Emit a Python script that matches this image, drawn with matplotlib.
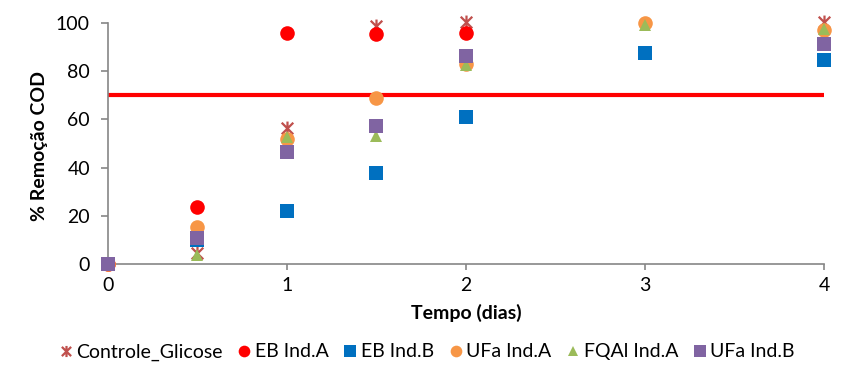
import numpy as np
import matplotlib
matplotlib.use("Agg")
from matplotlib import pyplot as plt
from matplotlib.path import Path

# time points (days)
tempo = [0, 0.5, 1, 1.5, 2, 3, 4]

# % COD removal for each series (None = no point)
controle_glicose = [0, 4.6, 56.4, 98.8, 100.3, None, 100.2]
eb_ind_a = [0, 23.8, 96.0, 95.3, 96.0, None, None]
eb_ind_b = [0, 10.0, 21.9, 37.6, 60.8, 87.4, 84.6]
ufa_ind_a = [0, 15.3, 52.0, 68.8, 83.0, 100.0, 97.2]
fqal_ind_a = [0, 3.7, 52.5, 53.2, 82.5, 99.0, 97.5]
ufa_ind_b = [0, 10.6, 46.3, 57.3, 86.3, None, 91.2]

limite = 70  # target line

series = [
    ("Controle_Glicose", controle_glicose, "#C0504D", "star"),
    ("EB Ind.A", eb_ind_a, "#FF0000", "o"),
    ("EB Ind.B", eb_ind_b, "#0070C0", "s"),
    ("UFa Ind.A", ufa_ind_a, "#F79646", "o"),
    ("FQAl Ind.A", fqal_ind_a, "#9BBB59", "^"),
    ("UFa Ind.B", ufa_ind_b, "#8064A2", "s"),
]

# Excel-like star: X with a vertical bar
star = Path([(-1, -1), (1, 1), (-1, 1), (1, -1), (0, -1.2), (0, 1.2)],
            [Path.MOVETO, Path.LINETO, Path.MOVETO, Path.LINETO, Path.MOVETO, Path.LINETO])

plt.rcParams['font.family'] = ['Lato', 'DejaVu Sans']
fig = plt.figure(figsize=(8.53, 3.83), dpi=100)
ax = fig.add_axes([0.1266, 0.3107, 0.8394, 0.6293])

ax.plot([0, 4], [limite, limite], color="#FF0000", lw=3, zorder=2, solid_capstyle="butt")

for name, vals, col, mk in series:
    x = [t for t, v in zip(tempo, vals) if v is not None]
    y = [v for v in vals if v is not None]
    if mk == "star":
        ax.plot(x, y, linestyle="none", marker=star, markersize=10, markerfacecolor="none",
                markeredgecolor=col, markeredgewidth=1.6, label=name, zorder=3, clip_on=False)
    else:
        ms = 9 if mk == "^" else 10.5
        ax.plot(x, y, linestyle="none", marker=mk, markersize=ms, color=col,
                markeredgewidth=0, label=name, zorder=3, clip_on=False)

ax.set_xlim(0, 4)
ax.set_ylim(0, 100)
ax.set_xticks([0, 1, 2, 3, 4])
ax.set_yticks([0, 20, 40, 60, 80, 100])
for s in ["top", "right"]:
    ax.spines[s].set_visible(False)
for s in ["left", "bottom"]:
    ax.spines[s].set_color("#868686")
    ax.spines[s].set_linewidth(1.2)
ax.tick_params(colors="#868686", labelcolor="black", labelsize=14, width=1.2)
ax.tick_params(axis="y", length=5, pad=8)
ax.tick_params(axis="x", length=4, pad=5)
ax.set_xlabel("Tempo (dias)", fontsize=14, fontweight="bold", va="center")
ax.set_ylabel("% Remoção COD", fontsize=14, fontweight="bold", va="center")
ax.xaxis.set_label_coords(0.501, -0.203)
ax.yaxis.set_label_coords(-0.096, 0.49)

fig.legend(loc="center", bbox_to_anchor=(0.501, 0.081), ncol=6, frameon=False, fontsize=14,
           handlelength=0.6, handletextpad=0.25, columnspacing=0.8, markerscale=0.8)

plt.savefig("out.png", dpi=100)
